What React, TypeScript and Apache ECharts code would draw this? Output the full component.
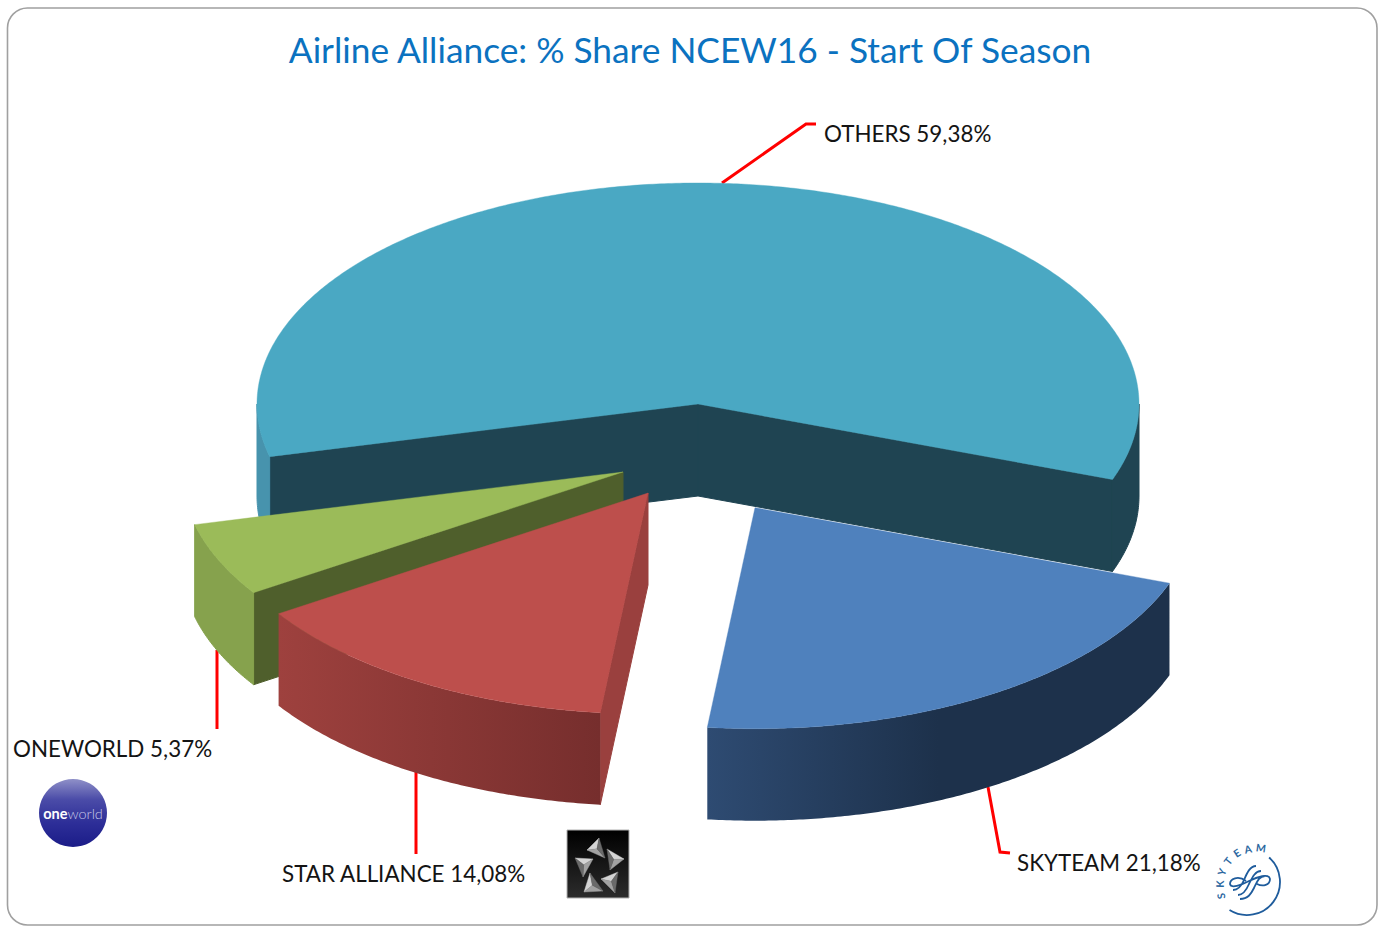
import React, { useEffect, useRef } from "react";
import * as echarts from "echarts";

// ---- data ----
const categories = ["OTHERS", "ONEWORLD", "STAR ALLIANCE", "SKYTEAM"];
const shares = [59.38, 5.37, 14.08, 21.18];
const titleText = "Airline Alliance: % Share NCEW16 - Start Of Season";

// ---- look ----
const topColors = ["#4aa8c3", "#9bbb59", "#bd4f4c", "#4f81bd"];
const faceColors = ["#1f4452", "#4f5f2c", "#9a403e", "#1e3049"];
const grad = (a: string, b: string, mid = 1) => ({
  type: "linear", x: 0, y: 0, x2: 1, y2: 0,
  colorStops: [{ offset: 0, color: a }, { offset: mid, color: b }, { offset: 1, color: b }],
});
const rimFills: any[][] = [
  ["#4793ad", "#1f4452"],
  ["#86a24d"],
  [grad("#9e413e", "#762e2d")],
  [grad("#2e4b72", "#1d314b", 0.5)],
];
const explode = [[0, 0], [-75, 68], [-50, 89], [57, 103.7]];
const CX = 698, CY = 404, RX = 441, RY = 221, DEPTH = 92, ANCHOR = 379.97;
const rad = Math.PI / 180;

const total = shares.reduce((s, v) => s + v, 0);
const spans: [number, number][] = [];
{
  let end = ANCHOR;
  shares.forEach((v) => {
    const start = end - (v / total) * 360;
    spans.push([start, end]);
    end = start;
  });
}

const renderSlice = (params: any, api: any) => {
  const i = params.dataIndex;
  api.value(0);
  const [a, b] = spans[i];
  const [ox, oy] = explode[i];
  const at = (deg: number, dz = 0) => [
    CX + ox + RX * Math.cos(deg * rad),
    CY + oy + RY * Math.sin(deg * rad) + dz,
  ];
  const tip = [CX + ox, CY + oy];
  const tipLow = [tip[0], tip[1] + DEPTH];
  const arc = (s: number, e: number, dz = 0) => {
    const out: number[][] = [];
    const n = Math.max(2, Math.ceil(Math.abs(e - s) * 2));
    for (let k = 0; k <= n; k++) out.push(at(s + ((e - s) * k) / n, dz));
    return out;
  };
  const poly = (points: number[][], fill: any, z2: number, lw: number) => ({
    type: "polygon", z2, silent: true,
    shape: { points },
    style: { fill, stroke: typeof fill === "string" ? fill : null, lineWidth: typeof fill === "string" ? lw : 0 },
  });
  const children: any[] = [];
  // flat cut faces that look towards the viewer
  if (Math.cos(a * rad) < 0)
    children.push(poly([tip, at(a), at(a, DEPTH), tipLow], faceColors[i], 1, 1));
  if (Math.cos(b * rad) > 0)
    children.push(poly([tip, at(b), at(b, DEPTH), tipLow], faceColors[i], 1, 1));
  // outer rim: only where the ellipse faces the viewer
  let w = 0;
  [[0, 180], [360, 540]].forEach(([lo, hi]) => {
    const s = Math.max(a, lo), e = Math.min(b, hi);
    if (e > s) {
      const fill = rimFills[i][Math.min(w, rimFills[i].length - 1)];
      children.push(poly([...arc(s, e), ...arc(e, s, DEPTH)], fill, 2, 1));
      w++;
    }
  });
  // top
  children.push(poly([tip, ...arc(a, b)], topColors[i], 3, 0.4));
  return { type: "group", children };
};

// ---- label and logo placement ----
const labelPos = [[824, 133.5], [13, 748.5], [282, 873.5], [1017, 862.5]];
const leaders = [
  [[722, 183], [806, 124], [816, 124]],
  [[217, 650], [217, 729]],
  [[416, 772], [416, 854]],
  [[988, 787], [1000, 852], [1010, 853]],
];
const FONT = "Lato, 'Open Sans', sans-serif";
const fmt = (v: number) => v.toFixed(2).replace(".", ",") + "%";

const starTriangles = [
  [[599, 838], [587, 850], [605, 858]],
  [[607, 849], [624, 859], [610, 870]],
  [[618, 872], [601, 879], [615, 893]],
  [[590, 873], [584, 892], [603, 891]],
  [[575, 858], [593, 859], [583, 877]],
];
const facetShades = ["#d4d4d4", "#a2a2a2", "#6a6a6a"];
const skyLetters: [string, number, number, number][] = [
  ["S", 1221, 896, -100],
  ["K", 1220, 884, -88],
  ["Y", 1222, 872, -70],
  ["T", 1228, 861, -52],
  ["E", 1237, 853, -32],
  ["A", 1248, 849, -12],
  ["M", 1261, 848, 8],
];
echarts.graphic.registerShape(
  "skySwirl",
  echarts.graphic.extendPath(
    "M1256 866 C1250 866 1247 873 1244 880 C1241 887 1238 890 1233 890 " +
      "M1261 871 C1255 871 1252 878 1249 884 C1246 891 1243 895 1238 895 " +
      "M1265 876 C1259 876 1257 882 1254 888 C1251 894 1248 899 1240 899 " +
      "M1246 881 C1238 875 1230 879 1230 884 C1231 889 1241 885 1249 881 C1257 877 1269 873 1270 879 C1270 885 1263 887 1257 884",
    {}
  )
);

export default function App() {
  const ref = useRef<HTMLDivElement>(null);
  useEffect(() => {
    const chart = echarts.init(ref.current!, null, { renderer: "svg" });
    const graphics: any[] = [
      {
        type: "rect", z: -5, silent: true,
        shape: { x: 7.5, y: 8, width: 1369.5, height: 917, r: 20 },
        style: { fill: "#ffffff", stroke: "#a0a0a0", lineWidth: 1.6 },
      },
      {
        type: "text", x: 690, y: 49.5, silent: true,
        style: {
          text: titleText, fill: "#0b72c0", font: `400 35.3px ${FONT}`,
          align: "center", verticalAlign: "middle",
        },
      },
    ];
    categories.forEach((c, i) => {
      graphics.push({
        type: "polyline", z: 1, silent: true,
        shape: { points: leaders[i] },
        style: { stroke: "#ff0000", lineWidth: 3, fill: "none" },
      });
      graphics.push({
        type: "text", z: 5, x: labelPos[i][0], y: labelPos[i][1], silent: true,
        style: {
          text: `${c} ${fmt(shares[i])}`, fill: "#141414", font: `400 22.4px ${FONT}`,
          align: "left", verticalAlign: "middle",
        },
      });
    });
    // oneworld badge
    graphics.push({
      type: "circle", z: 5, silent: true,
      shape: { cx: 73, cy: 813, r: 34 },
      style: {
        fill: {
          type: "linear", x: 0, y: 0, x2: 0, y2: 1,
          colorStops: [
            { offset: 0, color: "#8f90c8" },
            { offset: 0.3, color: "#4b4ca8" },
            { offset: 0.65, color: "#2d2e98" },
            { offset: 1, color: "#1b1c88" },
          ],
        },
      },
    });
    graphics.push({
      type: "text", z: 6, x: 73, y: 813, silent: true,
      style: {
        text: "{a|one}{b|world}", align: "center", verticalAlign: "middle",
        rich: {
          a: { fill: "#ffffff", font: `700 14.5px ${FONT}` },
          b: { fill: "#c6c7e6", font: `300 14.5px ${FONT}` },
        },
      },
    });
    // star alliance badge
    graphics.push({
      type: "rect", z: 5, silent: true,
      shape: { x: 567, y: 830, width: 62, height: 68 },
      style: {
        stroke: "#b0b0b0", lineWidth: 1,
        fill: {
          type: "linear", x: 0, y: 0, x2: 0, y2: 1,
          colorStops: [{ offset: 0, color: "#000000" }, { offset: 1, color: "#2c2c2c" }],
        },
      },
    });
    starTriangles.forEach((pts) => {
      const mx = (pts[0][0] + pts[1][0] + pts[2][0]) / 3;
      const my = (pts[0][1] + pts[1][1] + pts[2][1]) / 3;
      pts.forEach((p, k) => {
        const q = pts[(k + 1) % 3];
        graphics.push({
          type: "polygon", z: 6, silent: true,
          shape: { points: [p, q, [mx, my]] },
          style: { fill: facetShades[k], stroke: facetShades[k], lineWidth: 0.4 },
        });
      });
    });
    // skyteam badge
    graphics.push({
      type: "arc", z: 5, silent: true,
      shape: { cx: 1247, cy: 882, r: 33, startAngle: -48 * rad, endAngle: 122 * rad, clockwise: true },
      style: { stroke: "#1f5c9c", lineWidth: 1.8, fill: "none" },
    });
    skyLetters.forEach(([t, x, y, deg]) => {
      graphics.push({
        type: "text", z: 5, x, y, rotation: -deg * rad, silent: true,
        style: { text: t, fill: "#2b679f", font: `700 10.5px ${FONT}`, align: "center", verticalAlign: "middle" },
      });
    });
    graphics.push({
      type: "skySwirl", z: 5, x: 0, y: 0, silent: true,
      style: { fill: "none", stroke: "#1f5c9c", lineWidth: 1.8 },
    });

    chart.setOption({
      animation: false,
      backgroundColor: "#ffffff",
      graphic: { elements: graphics },
      series: [
        {
          type: "custom",
          coordinateSystem: "none",
          silent: true,
          z: 3,
          renderItem: renderSlice,
          data: categories.map((name, i) => ({ name, value: shares[i] })),
        },
      ],
    });
    return () => chart.dispose();
  }, []);
  return <div ref={ref} style={{ position: "fixed", left: 0, top: 0, width: 1384, height: 926 }} />;
}
